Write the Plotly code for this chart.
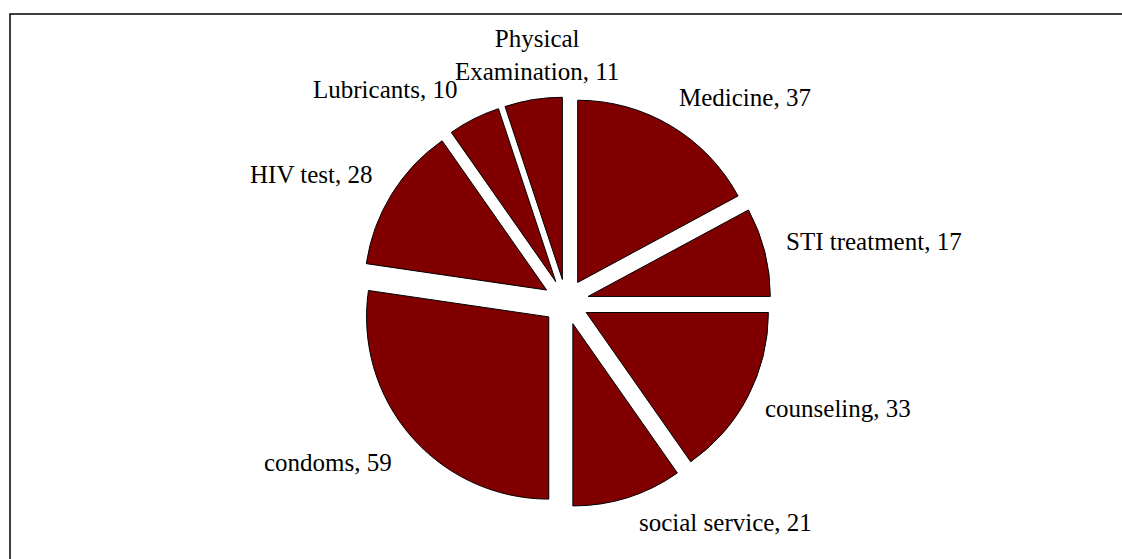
import plotly.graph_objects as go

categories = ["Medicine", "STI treatment", "counseling", "social service",
              "condoms", "HIV test", "Lubricants", "Physical<br>Examination"]
values = [37, 17, 33, 21, 59, 28, 10, 11]

W, H = 1122, 559
# label anchor positions in pixels (layout only)
label_px = [(745, 97), (874, 242), (838, 408), (725, 522),
            (328, 462), (311, 175), (385, 89), (537, 55)]

cx, cy = 566, 302
outer = 205
fig = go.Figure(go.Pie(
    labels=categories,
    values=values,
    sort=False,
    direction="clockwise",
    rotation=0,
    pull=0.125,
    marker=dict(colors=["#800000"] * len(values),
                line=dict(color="#000000", width=1)),
    textinfo="none",
    hoverinfo="label+value",
    showlegend=False,
    domain=dict(x=[(cx - outer) / W, (cx + outer) / W],
                y=[(H - cy - outer) / H, (H - cy + outer) / H]),
))

font = dict(family="Liberation Serif, serif", size=25, color="#000000")
for cat, val, (px, py) in zip(categories, values, label_px):
    fig.add_annotation(x=px / W, y=1 - py / H, xref="paper", yref="paper",
                       text=f"{cat}, {val}", showarrow=False, font=font,
                       xanchor="center", yanchor="middle", align="center")

fig.add_shape(type="rect", xref="paper", yref="paper",
              x0=10 / W, x1=1130 / W, y0=-10 / H, y1=1 - 14 / H,
              line=dict(color="#000000", width=1.5), fillcolor="rgba(0,0,0,0)")

fig.update_layout(width=W, height=H, margin=dict(l=0, r=0, t=0, b=0),
                  paper_bgcolor="#ffffff", plot_bgcolor="#ffffff")
fig.write_html("out.html", config={"displayModeBar": False},
               post_script="document.body.style.margin='0';document.body.style.overflow='hidden';")
